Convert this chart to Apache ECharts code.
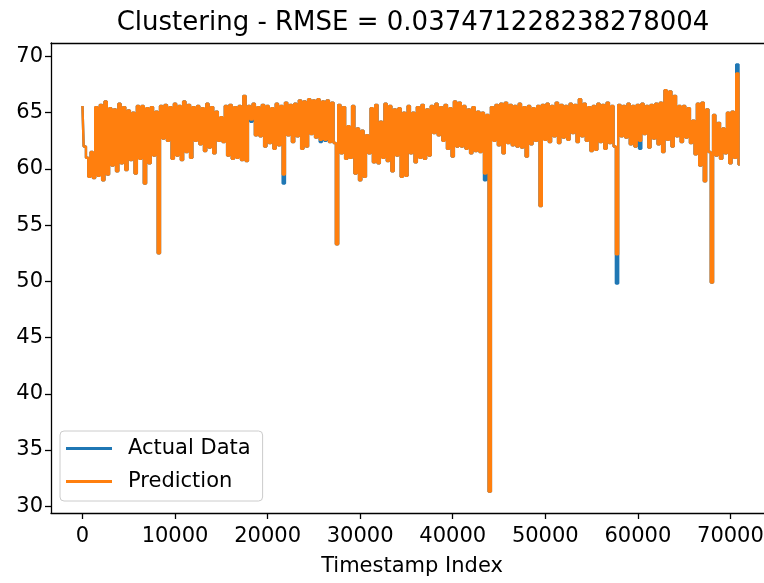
<!DOCTYPE html>
<html><head><meta charset="utf-8">
<script src="https://cdn.jsdelivr.net/npm/echarts@6/dist/echarts.min.js"></script>
<style>html,body{margin:0;padding:0;background:#fff}#c{width:764px;height:583px}</style>
</head><body><div id="c"></div>
<script>
const titleText = 'Clustering - RMSE = 0.037471228238278004';
const xAxisName = 'Timestamp Index';
const seriesNames = ['Actual Data', 'Prediction'];
const xTicks = [0, 10000, 20000, 30000, 40000, 50000, 60000, 70000];
const yTicks = [30, 35, 40, 45, 50, 55, 60, 65, 70];
const indexStep = 250; // timestamp-index spacing of the samples below

const prediction = [
65.6,62.0,61.0,59.3,61.5,59.2,65.5,59.4,65.7,59.0,66.0,59.5,65.4,60.3,65.3,59.8,65.8,60.5,65.5,59.9,
65.2,60.8,65.0,59.6,65.6,60.9,65.6,58.7,65.4,60.5,65.5,61.2,65.1,52.5,65.6,62.7,65.7,62.5,65.5,60.9,
65.8,61.2,65.6,60.8,66.0,61.5,65.7,61.0,65.5,62.5,65.6,62.2,65.4,61.6,65.8,61.9,65.5,61.4,65.1,62.5,
64.6,62.4,65.6,61.2,65.7,60.9,65.5,61.0,65.6,60.8,66.5,60.7,65.6,64.4,65.8,63.0,65.5,62.9,65.7,62.0,
65.6,62.3,65.4,61.8,65.8,62.1,65.6,59.5,65.9,63.0,65.7,62.4,65.8,62.9,66.1,61.8,66.0,62.0,66.2,63.1,
66.1,62.8,66.2,62.6,66.0,62.6,66.1,62.4,65.9,62.3,53.3,65.7,61.4,65.5,60.9,63.8,61.0,65.6,59.6,63.6,
59.0,63.4,59.3,63.0,61.4,65.4,60.6,65.7,60.5,64.2,61.0,65.8,60.7,65.6,59.8,65.3,61.2,65.4,59.3,65.0,
59.4,65.6,61.4,65.0,60.6,65.5,61.0,65.7,60.9,65.3,61.2,65.6,63.2,65.8,63.0,65.5,62.5,65.7,61.8,65.4,
61.1,66.0,62.0,65.9,62.0,65.6,61.8,65.3,61.4,65.5,61.6,65.1,61.5,65.0,59.6,64.8,31.3,65.5,62.5,65.7,
62.1,65.8,61.4,65.9,62.3,65.7,62.1,65.6,62.0,65.8,61.9,65.5,61.1,65.6,62.2,65.4,62.5,65.6,56.7,65.7,
62.6,65.8,62.4,65.6,62.9,65.9,62.3,65.7,62.8,65.6,62.6,65.8,63.2,65.7,62.4,66.2,62.9,65.8,62.5,65.5,
61.6,65.6,61.7,65.8,62.4,65.7,61.8,65.9,62.3,65.6,62.0,52.4,65.7,62.9,65.6,62.8,65.8,62.2,65.6,62.0,
65.7,62.5,65.8,63.1,65.6,61.9,65.7,62.7,65.8,62.2,65.9,61.5,67.0,62.6,66.9,62.0,66.5,62.9,65.6,62.4,
65.6,62.8,65.4,62.3,64.3,61.3,65.8,60.3,65.9,58.9,65.3,61.5,49.9,64.8,61.2,64.1,60.9,63.6,61.4,65.0,
60.5,65.1,61.0,68.5,60.4
];

const actual = [
65.6,62.0,61.0,59.3,61.5,59.2,65.5,59.4,65.7,59.0,66.0,59.5,65.4,60.3,65.3,59.8,65.8,60.5,65.5,59.9,
65.2,60.8,65.0,59.6,65.6,60.9,65.6,58.7,65.4,60.5,65.5,61.2,65.1,52.5,65.6,62.7,65.7,62.5,65.5,60.9,
65.8,61.2,65.6,60.8,66.0,61.5,65.7,61.0,65.5,62.5,65.6,62.2,65.4,61.6,65.8,61.9,65.5,61.4,65.1,62.5,
64.6,62.4,65.6,61.2,65.7,60.9,65.5,61.0,65.6,60.8,66.5,60.7,65.6,64.2,65.8,63.0,65.5,62.9,65.7,62.0,
65.6,62.3,65.4,61.8,65.8,62.1,65.6,58.7,65.9,63.0,65.7,62.4,65.8,62.9,66.1,61.8,66.0,62.0,66.2,63.1,
66.1,62.8,66.2,62.4,66.0,62.5,66.1,62.4,65.9,62.3,53.3,65.7,61.4,65.5,60.9,63.8,61.0,65.6,59.6,63.6,
59.0,63.4,59.3,63.0,61.4,65.4,60.6,65.7,60.5,64.2,61.0,65.8,60.7,65.6,59.8,65.3,61.2,65.4,59.3,65.0,
59.4,65.6,61.4,65.0,60.6,65.5,61.0,65.7,60.9,65.3,61.2,65.6,63.2,65.8,63.0,65.5,62.5,65.7,61.8,65.4,
61.1,66.0,62.0,65.9,62.0,65.6,61.8,65.3,61.4,65.5,61.6,65.1,61.5,65.0,59.0,64.8,31.3,65.5,62.5,65.7,
62.1,65.8,61.4,65.9,62.3,65.7,62.1,65.6,62.0,65.8,61.9,65.5,61.1,65.6,62.2,65.4,62.5,65.6,56.7,65.7,
62.6,65.8,62.4,65.6,62.9,65.9,62.3,65.7,62.8,65.6,62.6,65.8,63.2,65.7,62.4,66.2,62.9,65.8,62.5,65.5,
61.6,65.6,61.7,65.8,62.4,65.7,61.8,65.9,62.3,65.6,62.0,49.8,65.7,62.9,65.6,62.8,65.8,62.2,65.6,62.0,
65.7,61.8,65.8,63.1,65.6,61.9,65.7,62.7,65.8,62.2,65.9,61.5,67.0,62.6,66.9,62.0,66.5,62.9,65.6,62.4,
65.6,62.8,65.4,62.3,64.3,61.3,65.8,60.3,65.9,58.9,65.3,61.5,49.9,64.8,61.2,64.1,60.9,63.6,61.4,65.0,
60.5,65.1,61.0,69.3,60.4
];

const FONT = 'DejaVu Sans';
const toPairs = arr => arr.map((v, i) => [i * indexStep, v]);
const plainNum = v => String(v);
const X_MIN = -3400, X_MAX = 74600;

const chart = echarts.init(document.getElementById('c'), null, {renderer: 'canvas'});
chart.setOption({
  animation: false,
  backgroundColor: '#ffffff',
  title: {
    text: titleText,
    left: 408, textAlign: 'center', top: 5,
    textStyle: {fontFamily: FONT, fontSize: 26, fontWeight: 'normal', color: '#000'}
  },
  grid: {
    left: 51, right: -9, top: 43, bottom: 70, show: false,
    containLabel: false, outerBoundsMode: 'none'
  },
  legend: {
    orient: 'vertical', left: 60, top: 431,
    padding: [5, 12, 7, 6], itemGap: 8,
    itemWidth: 46, itemHeight: 3, icon: 'rect',
    backgroundColor: 'rgba(255,255,255,0.8)', borderColor: '#cccccc', borderWidth: 1, borderRadius: 4,
    textStyle: {fontFamily: FONT, fontSize: 21, color: '#000', lineHeight: 25, padding: [0, 0, 0, 11]},
    data: seriesNames
  },
  xAxis: [{
    type: 'value', min: X_MIN, max: X_MAX, position: 'bottom',
    name: xAxisName, nameLocation: 'middle', nameGap: 43,
    nameTextStyle: {fontFamily: FONT, fontSize: 21, color: '#000'},
    axisLine: {onZero: false, lineStyle: {color: '#000', width: 1.3}},
    axisTick: {show: true, length: 6, inside: false, customValues: xTicks, lineStyle: {color: '#000', width: 1.3}},
    axisLabel: {customValues: xTicks, formatter: plainNum, margin: 13, fontFamily: FONT, fontSize: 21, color: '#000'},
    splitLine: {show: false}
  }, {
    type: 'value', min: X_MIN, max: X_MAX, position: 'top',
    axisLine: {show: true, onZero: false, lineStyle: {color: '#000', width: 1.3}},
    axisTick: {show: false}, axisLabel: {show: false}, splitLine: {show: false}
  }],
  yAxis: {
    type: 'value', min: 29.4, max: 71.2,
    axisLine: {show: true, onZero: false, lineStyle: {color: '#000', width: 1.3}},
    axisTick: {show: true, length: 6, inside: false, customValues: yTicks, lineStyle: {color: '#000', width: 1.3}},
    axisLabel: {customValues: yTicks, formatter: plainNum, margin: 8, fontFamily: FONT, fontSize: 21, color: '#000'},
    splitLine: {show: false}
  },
  series: [
    {
      name: seriesNames[0], type: 'line', data: toPairs(actual), step: 'middle',
      showSymbol: false, symbol: 'none', sampling: null, z: 2,
      color: '#1f77b4', lineStyle: {color: '#1f77b4', width: 2.4}
    },
    {
      name: seriesNames[1], type: 'line', data: toPairs(prediction), step: 'middle',
      showSymbol: false, symbol: 'none', sampling: null, z: 3,
      color: '#ff7f0e', lineStyle: {color: '#ff7f0e', width: 2.4}
    }
  ]
});
</script>
</body></html>
